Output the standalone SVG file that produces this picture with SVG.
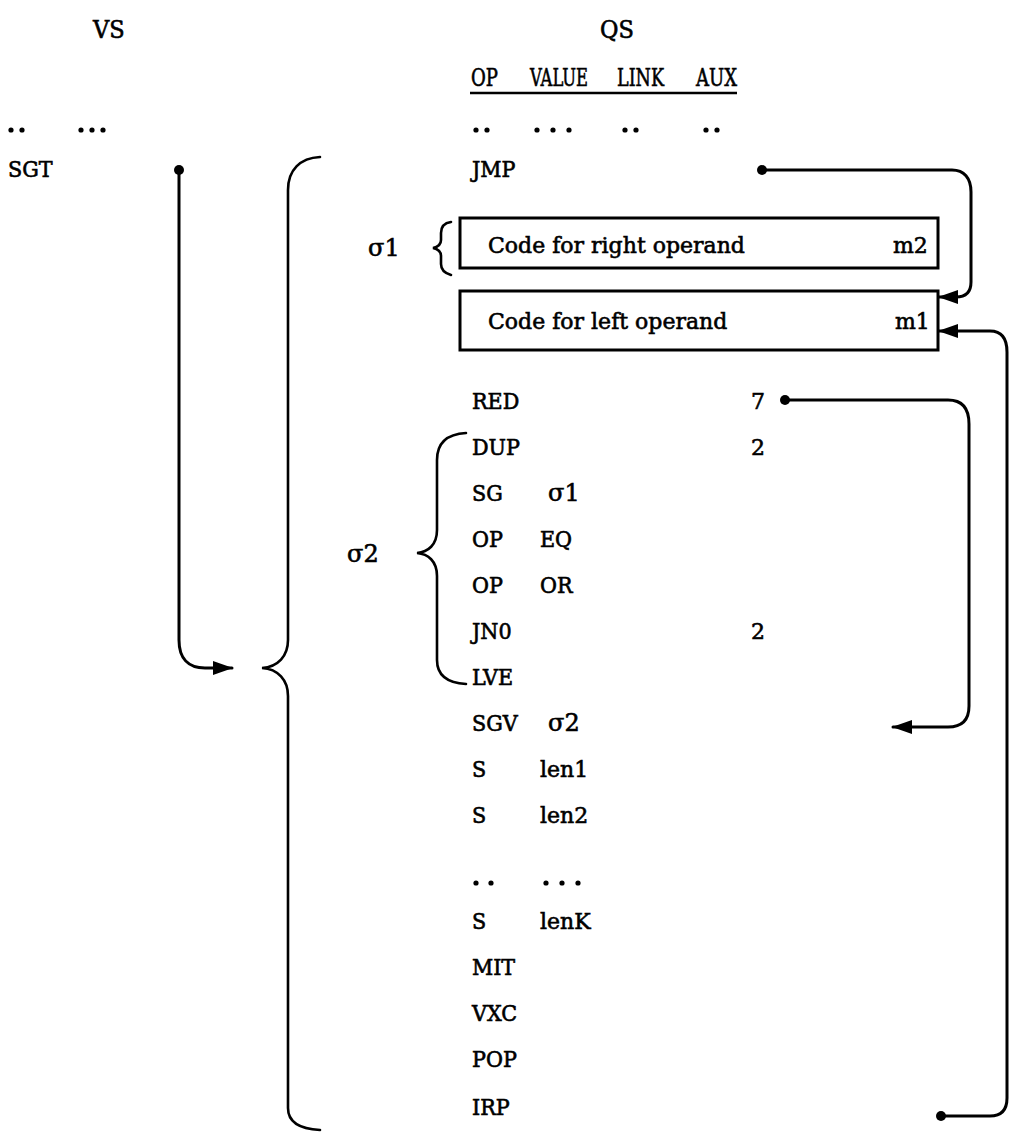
<svg xmlns="http://www.w3.org/2000/svg" width="1009" height="1134" viewBox="0 0 1009 1134">
<style>
text { font-family: "DejaVu Serif", "Liberation Serif", serif; font-size: 22px; fill: #000; stroke: #000; stroke-width: 0.6; }
.c { font-family: "DejaVu Serif Condensed", "DejaVu Serif", serif; font-stretch: condensed; font-size: 23px; }
.h { font-family: "DejaVu Serif Condensed", "DejaVu Serif", serif; font-stretch: condensed; font-size: 25px; }
.g { font-size: 24px; }
.ln { fill: none; stroke: #000; stroke-width: 3; stroke-linecap: round; stroke-linejoin: round; }
.br { fill: none; stroke: #000; stroke-width: 2.6; stroke-linecap: round; }
.box { fill: #fff; stroke: #000; stroke-width: 3; }
.dot { fill: #000; }
</style>
<defs>
<marker id="ah" viewBox="0 0 20 14" refX="19" refY="7" markerWidth="20" markerHeight="14" markerUnits="userSpaceOnUse" orient="auto">
<path d="M0,0 L20,7 L0,14 z" fill="#000"/>
</marker>
</defs>

<g id="headers">
<text class="h" x="93" y="38">VS</text>
<text class="h" x="600" y="38">QS</text>
<text class="h" x="471" y="86" textLength="27" lengthAdjust="spacingAndGlyphs">OP</text>
<text class="h" x="530" y="86" textLength="58" lengthAdjust="spacingAndGlyphs">VALUE</text>
<text class="h" x="617" y="86" textLength="47" lengthAdjust="spacingAndGlyphs">LINK</text>
<text class="h" x="696" y="86" textLength="41" lengthAdjust="spacingAndGlyphs">AUX</text>
<line x1="470" y1="93" x2="737" y2="93" stroke="#000" stroke-width="2.4"/>
</g>

<g id="ellipsis-rows">
<circle class="dot" cx="11" cy="130" r="2.6"/><circle class="dot" cx="22" cy="130" r="2.6"/>
<circle class="dot" cx="81" cy="130" r="2.6"/><circle class="dot" cx="92" cy="130" r="2.6"/><circle class="dot" cx="103" cy="130" r="2.6"/>
<circle class="dot" cx="476" cy="130" r="2.6"/><circle class="dot" cx="487" cy="130" r="2.6"/>
<circle class="dot" cx="537" cy="130" r="2.6"/><circle class="dot" cx="553" cy="130" r="2.6"/><circle class="dot" cx="569" cy="130" r="2.6"/>
<circle class="dot" cx="625" cy="130" r="2.6"/><circle class="dot" cx="636" cy="130" r="2.6"/>
<circle class="dot" cx="706" cy="130" r="2.6"/><circle class="dot" cx="717" cy="130" r="2.6"/>
<circle class="dot" cx="476" cy="883" r="2.6"/><circle class="dot" cx="491" cy="883" r="2.6"/>
<circle class="dot" cx="546" cy="883" r="2.6"/><circle class="dot" cx="562" cy="883" r="2.6"/><circle class="dot" cx="578" cy="883" r="2.6"/>
</g>

<g id="vs-sgt">
<text class="c" x="8" y="177">SGT</text>
</g>

<g id="big-brace">
<path class="br" d="M320,157 C300,158 288,170 288,190 L288,640 C288,656 278,667 262,668 C278,669 288,680 288,696 L288,1108 C288,1122 300,1129 320,1130"/>
</g>

<g id="sigma1">
<text class="g" x="368" y="256">σ1</text>
<path class="br" d="M451,222 C444,223 441,227 441,233 L441,240 C441,245 438,247 433,248 C438,249 441,251 441,256 L441,264 C441,270 444,273 451,275"/>
</g>

<g id="box-right">
<rect class="box" x="460" y="218" width="478" height="50"/>
<text x="488" y="253">Code for right operand</text>
<text x="893" y="253">m2</text>
</g>

<g id="box-left">
<rect class="box" x="460" y="291" width="478" height="59"/>
<text x="488" y="329">Code for left operand</text>
<text x="895" y="329">m1</text>
</g>

<g id="sigma2">
<text class="g" x="347" y="562">σ2</text>
<path class="br" d="M466,433 C448,434 437,442 437,460 L437,530 C437,545 428,552 417,553 C428,554 437,561 437,576 L437,660 C437,676 448,683 466,684"/>
</g>

<g id="qs-rows">
<text class="c" x="472" y="177">JMP</text>
<text class="c" x="472" y="409">RED</text><text x="751" y="409">7</text>
<text class="c" x="472" y="455">DUP</text><text x="751" y="455">2</text>
<text class="c" x="472" y="501">SG</text><text class="g" x="548" y="501">σ1</text>
<text class="c" x="472" y="547">OP</text><text class="c" x="540" y="547">EQ</text>
<text class="c" x="472" y="593">OP</text><text class="c" x="540" y="593">OR</text>
<text class="c" x="472" y="639">JN0</text><text x="751" y="639">2</text>
<text class="c" x="472" y="685">LVE</text>
<text class="c" x="472" y="731">SGV</text><text class="g" x="548" y="731">σ2</text>
<text class="c" x="472" y="777">S</text><text x="540" y="777">len1</text>
<text class="c" x="472" y="823">S</text><text x="540" y="823">len2</text>
<text class="c" x="472" y="929">S</text><text x="540" y="929">lenK</text>
<text class="c" x="472" y="975">MIT</text>
<text class="c" x="472" y="1021">VXC</text>
<text class="c" x="472" y="1067">POP</text>
<text class="c" x="472" y="1115">IRP</text>
</g>

<g id="connectors">
<circle class="dot" cx="179" cy="170" r="5"/>
<path class="ln" d="M179,170 L179,640 C179,658 188,668 205,668 L232,668" marker-end="url(#ah)"/>
<circle class="dot" cx="762" cy="170" r="5"/>
<path class="ln" d="M762,170 L952,170 C964,170 971,178 971,192 L971,282 C971,292 966,297 956,297 L939,297" marker-end="url(#ah)"/>
<circle class="dot" cx="941" cy="1116" r="5"/>
<path class="ln" d="M941,1116 L990,1116 C1001,1116 1007,1110 1007,1098 L1007,352 C1007,338 1001,331 990,331 L939,331" marker-end="url(#ah)"/>
<circle class="dot" cx="785" cy="400" r="5"/>
<path class="ln" d="M785,400 L948,400 C962,400 969,408 969,424 L969,706 C969,720 962,727 948,727 L893,727" marker-end="url(#ah)"/>
</g>
</svg>
